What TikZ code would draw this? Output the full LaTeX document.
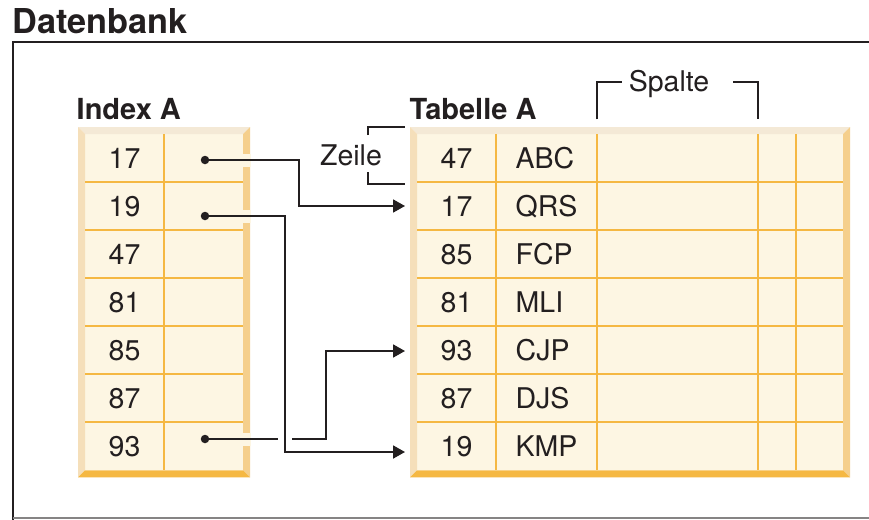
\documentclass[tikz,border=0pt]{standalone}
\usepackage{fontspec}
\setmainfont{TeX Gyre Heros}
\usetikzlibrary{arrows.meta}

\definecolor{ink}{HTML}{231F20}
\definecolor{cellfill}{HTML}{FDF6E3}
\definecolor{bevtop}{HTML}{F4E9D6}
\definecolor{bevleft}{HTML}{F5DFBA}
\definecolor{bevright}{HTML}{F5CF8C}
\definecolor{bevbottom}{HTML}{F5B843}
\definecolor{gridline}{HTML}{F5B843}

\tikzset{
  celltext/.style={font=\fontsize{28.5}{34}\selectfont, text=ink, inner sep=0pt, anchor=base},
  cellword/.style={celltext, anchor=base west},
  heading/.style={font=\bfseries\fontsize{29}{35}\selectfont, text=ink, inner sep=0pt, anchor=base west},
  conn/.style={draw=ink, line width=1.8pt, -{Triangle[length=12pt,width=13pt]}},
  bracket/.style={draw=ink, line width=1.8pt},
  gridrule/.style={draw=gridline, line width=2pt},
  dotnode/.style={circle, fill=ink, inner sep=0pt, minimum size=8.5pt},
}

% raised table frame: #1,#2 upper left, #3,#4 lower right (outer corners)
\newcommand{\bevelbox}[4]{%
  \fill[cellfill] (#1+7,#2+7) rectangle (#3-7,#4-7);
  \fill[bevtop] (#1,#2) -- (#3,#2) -- (#3-7,#2+7) -- (#1+7,#2+7) -- cycle;
  \fill[bevleft] (#1,#2) -- (#1+7,#2+7) -- (#1+7,#4-7) -- (#1,#4) -- cycle;
  \fill[bevright] (#3,#2) -- (#3-7,#2+7) -- (#3-7,#4-7) -- (#3,#4) -- cycle;
  \fill[bevbottom] (#1,#4) -- (#1+7,#4-7) -- (#3-7,#4-7) -- (#3,#4) -- cycle;
}

\begin{document}
\begin{tikzpicture}[x=1pt,y=-1pt]
\useasboundingbox (0,0) rectangle (869,519);
\fill[white] (0,0) rectangle (869,519);

% database frame and title
\draw[ink, line width=2pt] (13,530) -- (13,42) -- (880,42);
\draw[ink!55, line width=1.6pt] (13,518) -- (880,518);
\node[heading, font=\bfseries\fontsize{34.3}{41}\selectfont] (title) at (12.5,33.3) {Datenbank};

% ---------- Index A ----------
\node[heading] (idxhead) at (76.5,119.3) {Index A};
\bevelbox{78}{127}{250}{477.3}
\foreach \i in {1,...,6}
  \draw[gridrule] (85,{134+48.04*\i}) -- (243,{134+48.04*\i});
\draw[gridrule] (164,134) -- (164,470.3);
\foreach \v [count=\i] in {17,19,47,81,85,87,93}
  \node[celltext] (ix\i) at (124.5,{134+48.04*(\i-0.5)+10.1}) {\v};

% ---------- Tabelle A ----------
\node[heading] (tabhead) at (409.5,119.3) {Tabelle A};
\bevelbox{410}{127}{850}{477.3}
\foreach \i in {1,...,6}
  \draw[gridrule] (417,{134+48.04*\i}) -- (843,{134+48.04*\i});
\foreach \x in {496,597,758,796}
  \draw[gridrule] (\x,134) -- (\x,470.3);
\foreach \v [count=\i] in {47,17,85,81,93,87,19}
  \node[celltext] (tk\i) at (456.5,{134+48.04*(\i-0.5)+10.1}) {\v};
\foreach \v [count=\i] in {ABC,QRS,FCP,MLI,CJP,DJS,KMP}
  \node[cellword] (tw\i) at (515.5,{134+48.04*(\i-0.5)+10.1}) {\v};

% Zeile bracket
\node[celltext] (zeile) at (351,165) {Zeile};
\draw[bracket] (367.7,135) -- (367.7,127.3) -- (405,127.3);
\draw[bracket] (367.7,172) -- (367.7,184) -- (405,184);

% Spalte bracket
\node[celltext] (spalte) at (669,91.5) {Spalte};
\draw[bracket] (596.7,119.3) -- (596.7,81.7) -- (621.7,81.7);
\draw[bracket] (733,81.7) -- (758,81.7) -- (758,119.3);

% pointers leave the index through gaps in its frame
\fill[cellfill] (243,153.5) rectangle (251,166.5);
\fill[cellfill] (243,209.5) rectangle (251,222.5);
\fill[cellfill] (243,432.5) rectangle (251,445.5);

\node[dotnode] (p17) at (205,160) {};
\node[dotnode] (p19) at (205,216) {};
\node[dotnode] (p93) at (205,439) {};
\coordinate (r17) at (405,206);
\coordinate (r93) at (405,351);
\coordinate (r19) at (405,452);

\draw[conn] (p17) -- (299,160) |- (r17);
\draw[conn] (p93) -- (326,439) |- (r93);
\fill[white] (278,433) rectangle (292,445);
\draw[conn] (p19) -- (285,216) |- (r19);
\end{tikzpicture}
\end{document}
